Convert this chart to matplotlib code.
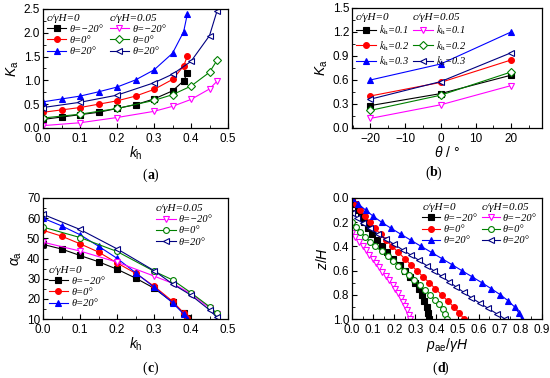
import matplotlib
matplotlib.use("Agg")
import matplotlib.pyplot as plt
from matplotlib.ticker import MultipleLocator
from matplotlib.legend import Legend

plt.rcParams['font.family'] = ['Liberation Sans', 'DejaVu Sans']
plt.rcParams['mathtext.fontset'] = 'custom'
plt.rcParams['mathtext.rm'] = 'Liberation Sans'
plt.rcParams['mathtext.it'] = 'Liberation Sans:italic'
plt.rcParams['mathtext.bf'] = 'Liberation Sans:bold'

# ---------------- data (a) & (c) ----------------
kh_c0 = [0.0, 0.05, 0.10, 0.15, 0.20, 0.25, 0.30, 0.35, 0.38, 0.39]
kh_c05 = [0.0, 0.10, 0.20, 0.30, 0.35, 0.40, 0.45, 0.47]

Ka_c0_m20 = [0.18, 0.23, 0.28, 0.33, 0.41, 0.49, 0.61, 0.78, 0.99, 1.15]
Ka_c0_0 = [0.33, 0.38, 0.43, 0.50, 0.57, 0.67, 0.81, 1.02, 1.30, 1.51]
Ka_c0_20 = [0.55, 0.61, 0.67, 0.76, 0.86, 1.01, 1.22, 1.57, 2.02, 2.39]
Ka_c05_m20 = [0.05, 0.11, 0.22, 0.35, 0.455, 0.60, 0.82, 0.98]
Ka_c05_0 = [0.21, 0.29, 0.41, 0.58, 0.70, 0.88, 1.17, 1.42]
Ka_c05_20 = [0.43, 0.54, 0.69, 0.95, 1.13, 1.40, 1.94, 2.45]

aa_c0_m20 = [47.0, 44.7, 41.5, 38.4, 34.7, 30.3, 25.3, 18.3, 13.0, 10.3]
aa_c0_0 = [54.0, 51.1, 47.3, 43.2, 37.8, 32.7, 26.3, 18.8, 13.0, 10.3]
aa_c0_20 = [60.0, 56.2, 51.8, 46.1, 40.1, 33.0, 25.8, 18.1, 12.5, 10.2]
aa_c05_m20 = [48.1, 43.7, 38.2, 31.3, 27.7, 22.5, 15.5, 12.5]
aa_c05_0 = [55.6, 50.4, 43.5, 33.7, 29.4, 23.0, 16.1, 12.8]
aa_c05_20 = [61.9, 54.4, 44.8, 34.0, 27.4, 21.8, 14.5, 10.8]

# ---------------- data (b) ----------------
theta = [-20, 0, 20]
Kb_c0_01 = [0.28, 0.43, 0.66]
Kb_c0_02 = [0.40, 0.57, 0.85]
Kb_c0_03 = [0.60, 0.80, 1.20]
Kb_c05_01 = [0.12, 0.29, 0.53]
Kb_c05_02 = [0.22, 0.41, 0.70]
Kb_c05_03 = [0.36, 0.58, 0.94]

# ---------------- data (d) ----------------
z_c0 = [0.0, 0.05, 0.10, 0.15, 0.20, 0.25, 0.30, 0.35, 0.40, 0.45, 0.50,
        0.55, 0.60, 0.65, 0.70, 0.75, 0.80, 0.85, 0.90, 0.95, 1.0]
p_c0_m20 = [0.0, 0.012, 0.027, 0.042, 0.058, 0.075, 0.095, 0.117, 0.14, 0.167, 0.195,
            0.225, 0.252, 0.276, 0.298, 0.316, 0.331, 0.343, 0.353, 0.36, 0.364]
p_c0_0 = [0.0, 0.02, 0.04, 0.062, 0.085, 0.109, 0.135, 0.162, 0.19, 0.22, 0.249,
          0.278, 0.307, 0.336, 0.366, 0.395, 0.424, 0.453, 0.482, 0.508, 0.531]
p_c0_20 = [0.0, 0.03, 0.065, 0.10, 0.14, 0.185, 0.232, 0.28, 0.328, 0.377, 0.425,
           0.473, 0.52, 0.568, 0.615, 0.66, 0.703, 0.74, 0.77, 0.79, 0.805]

z_c05_m20 = [0.29, 0.326, 0.361, 0.397, 0.432, 0.468, 0.503, 0.539, 0.574, 0.610, 0.645,
             0.681, 0.716, 0.752, 0.787, 0.823, 0.858, 0.894, 0.929, 0.965, 1.0]
p_c05_m20 = [0.0, 0.015, 0.033, 0.05, 0.066, 0.082, 0.098, 0.113, 0.128, 0.143, 0.16,
             0.176, 0.192, 0.206, 0.219, 0.231, 0.242, 0.252, 0.261, 0.269, 0.277]
z_c05_0 = [0.20, 0.24, 0.28, 0.32, 0.36, 0.40, 0.44, 0.48, 0.52, 0.56, 0.60,
           0.64, 0.68, 0.72, 0.76, 0.80, 0.84, 0.88, 0.92, 0.96, 1.0]
p_c05_0 = [0.0, 0.018, 0.04, 0.062, 0.085, 0.11, 0.14, 0.17, 0.195, 0.22, 0.245,
           0.27, 0.295, 0.32, 0.345, 0.37, 0.392, 0.412, 0.43, 0.442, 0.45]
z_c05_20 = [0.12, 0.164, 0.208, 0.252, 0.296, 0.34, 0.384, 0.428, 0.472, 0.516, 0.56,
            0.604, 0.648, 0.692, 0.736, 0.78, 0.824, 0.868, 0.912, 0.956, 1.0]
p_c05_20 = [0.0, 0.025, 0.05, 0.083, 0.122, 0.162, 0.20, 0.24, 0.279, 0.318, 0.355,
            0.39, 0.425, 0.46, 0.494, 0.53, 0.565, 0.605, 0.645, 0.685, 0.725]

# ---------------- styling ----------------
BLACK, RED, BLUE = '#000000', '#ff0000', '#0000ff'
MAG, GREEN, NAVY = '#ff00ff', '#008000', '#000080'
LW = 0.8
serif = ['Liberation Serif', 'DejaVu Serif']

W, H = 550, 378
fig = plt.figure(figsize=(W / 100, H / 100), dpi=100)


def rect(l, r, t, b):
    return [l / W, 1 - b / H, (r - l) / W, (b - t) / H]


def style(ax):
    ax.tick_params(which='both', direction='in', labelsize=8.5, top=False, right=False)
    ax.tick_params(which='major', length=3.5, width=0.8)
    ax.tick_params(which='minor', length=2, width=0.6)
    ax.tick_params(axis='x', which='major', pad=3.5)
    ax.tick_params(axis='y', which='major', pad=2)
    for s in ax.spines.values():
        s.set_linewidth(0.9)


def line(ax, x, y, color, marker, filled, ms=4.2, label=None):
    return ax.plot(x, y, color=color, lw=LW, marker=marker, ms=ms,
                   mfc=color if filled else 'white', mec=color, mew=0.8,
                   label=label)[0]


def leg(ax, handles, title, x, y, hl=1.9):
    lg = Legend(ax, handles, [h.get_label() for h in handles], title=title,
                loc='upper left', bbox_to_anchor=(x, y), frameon=False,
                prop={'family': serif, 'size': 7.5, 'style': 'italic',
                      'math_fontfamily': 'stix'},
                title_fontproperties={'family': serif, 'size': 8, 'style': 'italic'},
                handlelength=hl, handletextpad=0.3, labelspacing=0.18,
                borderaxespad=0, borderpad=0, alignment='left')
    ax.add_artist(lg)
    return lg


def panel_label(xc, yc, letter):
    fig.text(xc / W, 1 - yc / H, '(', ha='right', va='center', fontsize=10, family=serif)
    fig.text(xc / W, 1 - yc / H, letter, ha='left', va='center', fontsize=10,
             family=serif, weight='bold')
    fig.text((xc + 6.5) / W, 1 - yc / H, ')', ha='left', va='center', fontsize=10, family=serif)


t_m20 = 'θ=−20°'
t_0 = 'θ=0°'
t_20 = 'θ=20°'

# ---------------- (a) ----------------
ax = fig.add_axes(rect(43, 228, 9, 128))
h1 = line(ax, kh_c0, Ka_c0_m20, BLACK, 's', True, 3.8, t_m20)
h2 = line(ax, kh_c0, Ka_c0_0, RED, 'o', True, 4.2, t_0)
h3 = line(ax, kh_c0, Ka_c0_20, BLUE, '^', True, 4.4, t_20)
g1 = line(ax, kh_c05, Ka_c05_m20, MAG, 'v', False, 4.6, t_m20)
g2 = line(ax, kh_c05, Ka_c05_0, GREEN, 'D', False, 3.8, t_0)
g3 = line(ax, kh_c05, Ka_c05_20, NAVY, '<', False, 4.6, t_20)
ax.set_xlim(0, 0.5)
ax.set_ylim(0, 2.5)
ax.xaxis.set_major_locator(MultipleLocator(0.1))
ax.xaxis.set_minor_locator(MultipleLocator(0.05))
ax.yaxis.set_major_locator(MultipleLocator(0.5))
ax.yaxis.set_minor_locator(MultipleLocator(0.25))
style(ax)
ax.set_xlabel(r'$k_\mathrm{h}$', fontsize=10, labelpad=0)
ax.set_ylabel(r'$K_\mathrm{a}$', fontsize=10, labelpad=2)
leg(ax, [h1, h2, h3], 'c/γH=0', 0.02, 0.96)
leg(ax, [g1, g2, g3], 'c/γH=0.05', 0.36, 0.96)
panel_label(147, 175, 'a')

# ---------------- (b) ----------------
ax = fig.add_axes(rect(352, 542, 8, 128))
b1 = line(ax, theta, Kb_c0_01, BLACK, 's', True, 3.8, r'$k_\mathrm{h}$=0.1')
b2 = line(ax, theta, Kb_c0_02, RED, 'o', True, 4.2, r'$k_\mathrm{h}$=0.2')
b3 = line(ax, theta, Kb_c0_03, BLUE, '^', True, 4.4, r'$k_\mathrm{h}$=0.3')
c1 = line(ax, theta, Kb_c05_01, MAG, 'v', False, 4.6, r'$k_\mathrm{h}$=0.1')
c2 = line(ax, theta, Kb_c05_02, GREEN, 'D', False, 3.8, r'$k_\mathrm{h}$=0.2')
c3 = line(ax, theta, Kb_c05_03, NAVY, '<', False, 4.6, r'$k_\mathrm{h}$=0.3')
ax.set_xlim(-25.2, 28.8)
ax.set_ylim(0, 1.5)
ax.xaxis.set_major_locator(MultipleLocator(10))
ax.xaxis.set_minor_locator(MultipleLocator(5))
ax.yaxis.set_major_locator(MultipleLocator(0.3))
ax.yaxis.set_minor_locator(MultipleLocator(0.15))
style(ax)
ax.set_xlabel(r'$\theta$ / °', fontsize=10, labelpad=0)
ax.set_ylabel(r'$K_\mathrm{a}$', fontsize=10, labelpad=2)
leg(ax, [b1, b2, b3], 'c/γH=0', 0.02, 0.96)
leg(ax, [c1, c2, c3], 'c/γH=0.05', 0.32, 0.96)
panel_label(430, 173, 'b')

# ---------------- (c) ----------------
ax = fig.add_axes(rect(43, 228, 198, 319))
h1 = line(ax, kh_c0, aa_c0_m20, BLACK, 's', True, 3.8, t_m20)
h2 = line(ax, kh_c0, aa_c0_0, RED, 'o', True, 4.2, t_0)
h3 = line(ax, kh_c0, aa_c0_20, BLUE, '^', True, 4.4, t_20)
g1 = line(ax, kh_c05, aa_c05_m20, MAG, 'v', False, 4.6, t_m20)
g2 = line(ax, kh_c05, aa_c05_0, GREEN, 'o', False, 4.2, t_0)
g3 = line(ax, kh_c05, aa_c05_20, NAVY, '<', False, 4.6, t_20)
ax.set_xlim(0, 0.5)
ax.set_ylim(10, 70)
ax.xaxis.set_major_locator(MultipleLocator(0.1))
ax.xaxis.set_minor_locator(MultipleLocator(0.05))
ax.yaxis.set_major_locator(MultipleLocator(10))
ax.yaxis.set_minor_locator(MultipleLocator(5))
style(ax)
ax.set_xlabel(r'$k_\mathrm{h}$', fontsize=10, labelpad=0)
ax.set_ylabel(r'$\alpha_\mathrm{a}$', fontsize=10, labelpad=2)
leg(ax, [g1, g2, g3], 'c/γH=0.05', 0.61, 0.95)
leg(ax, [h1, h2, h3], 'c/γH=0', 0.03, 0.44)
panel_label(147, 368, 'c')

# ---------------- (d) ----------------
ax = fig.add_axes(rect(352, 542, 198, 319))
d1 = line(ax, p_c0_m20, z_c0, BLACK, 's', True, 3.8, t_m20)
d2 = line(ax, p_c0_0, z_c0, RED, 'o', True, 4.2, t_0)
d3 = line(ax, p_c0_20, z_c0, BLUE, '^', True, 4.4, t_20)
e1 = line(ax, p_c05_m20, z_c05_m20, MAG, 'v', False, 4.6, t_m20)
e2 = line(ax, p_c05_0, z_c05_0, GREEN, 'o', False, 4.2, t_0)
e3 = line(ax, p_c05_20, z_c05_20, NAVY, '<', False, 4.6, t_20)
ax.set_xlim(0, 0.9)
ax.set_ylim(1.0, 0.0)
ax.xaxis.set_major_locator(MultipleLocator(0.1))
ax.xaxis.set_minor_locator(MultipleLocator(0.05))
ax.yaxis.set_major_locator(MultipleLocator(0.2))
ax.yaxis.set_minor_locator(MultipleLocator(0.1))
style(ax)
ax.set_xlabel(r'$p_\mathrm{ae}/\gamma H$', fontsize=10, labelpad=0)
ax.set_ylabel(r'$z/H$', fontsize=10, labelpad=2)
leg(ax, [d1, d2, d3], 'c/γH=0', 0.37, 0.96, hl=1.7)
leg(ax, [e1, e2, e3], 'c/γH=0.05', 0.685, 0.96, hl=1.7)
panel_label(437, 368, 'd')

fig.savefig('out.png', dpi=100)
